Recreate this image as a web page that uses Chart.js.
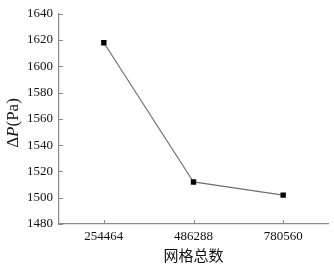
<!DOCTYPE html>
<html>
<head>
<meta charset="utf-8">
<script src="https://cdn.jsdelivr.net/npm/chart.js@4/dist/chart.umd.min.js"></script>
<style>
  html, body { margin: 0; padding: 0; background: #fff; }
  #wrap { width: 334px; height: 265px; }
</style>
</head>
<body>
<div id="wrap"><canvas id="myChart"></canvas></div>
<script>
// datos del grafico
const categorias = ['254464', '486288', '780560'];
const presion = [1618, 1512, 1502];
const yMin = 1480;
const yMax = 1640;
const yStep = 20;

const ejeColor = '#8a8a8a';
const serif = "'Liberation Serif', 'Times New Roman', serif";

// ticks hacia adentro + titulo del eje Y con P en cursiva
const ejesPlugin = {
  id: 'ejes',
  afterDraw(chart) {
    const ctx = chart.ctx;
    const xs = chart.scales.x;
    const ys = chart.scales.y;
    const area = chart.chartArea;
    ctx.save();
    ctx.strokeStyle = ejeColor;
    ctx.lineWidth = 1;
    ctx.beginPath();
    xs.ticks.forEach((t, i) => {
      const px = Math.round(xs.getPixelForTick(i)) + 0.5;
      ctx.moveTo(px, area.bottom);
      ctx.lineTo(px, area.bottom - 4);
    });
    ys.ticks.forEach((t, i) => {
      const py = Math.round(ys.getPixelForTick(i)) + 0.5;
      ctx.moveTo(area.left, py);
      ctx.lineTo(area.left + 4, py);
    });
    ctx.stroke();

    // titulo Y
    ctx.translate(14, 123);
    ctx.rotate(-Math.PI / 2);
    ctx.fillStyle = '#111';
    ctx.textBaseline = 'middle';
    const partes = [
      { t: 'Δ', f: '17px ' + serif },
      { t: 'P', f: 'italic 17px ' + serif },
      { t: '(Pa)', f: '17px ' + serif }
    ];
    let total = 0;
    partes.forEach(p => { ctx.font = p.f; total += ctx.measureText(p.t).width; });
    let x = -total / 2;
    partes.forEach(p => {
      ctx.font = p.f;
      ctx.fillText(p.t, x, 0);
      x += ctx.measureText(p.t).width;
    });
    ctx.restore();
  }
};

const ctx1 = document.getElementById('myChart');

new Chart(ctx1, {
  type: 'line',
  data: {
    labels: categorias,
    datasets: [{
      data: presion,
      borderColor: '#707070',
      borderWidth: 1.2,
      pointStyle: 'rect',
      pointRadius: 3.8,
      pointBackgroundColor: '#000',
      pointBorderColor: '#000',
      pointBorderWidth: 0,
      tension: 0
    }]
  },
  options: {
    responsive: true,
    maintainAspectRatio: false,
    animation: false,
    layout: { padding: { top: 11, right: 6, left: 0, bottom: 0 } },
    plugins: {
      legend: { display: false },
      tooltip: { enabled: false }
    },
    scales: {
      x: {
        offset: true,
        grid: { display: true, drawOnChartArea: false, drawTicks: false, color: ejeColor },
        border: { display: true, color: ejeColor, width: 1.2 },
        ticks: { color: '#111', padding: 5, font: { family: serif, size: 13 } },
        title: {
          display: true,
          text: '网格总数',
          color: '#111',
          font: { family: "'Noto Sans CJK SC'", size: 15 },
          padding: { top: 0, bottom: 1 }
        },
        afterFit: (scale) => { scale.height = 41; }
      },
      y: {
        min: yMin,
        max: yMax,
        grid: { display: true, drawOnChartArea: false, drawTicks: false, color: ejeColor },
        border: { display: true, color: ejeColor, width: 1.2 },
        ticks: {
          stepSize: yStep,
          color: '#111',
          padding: 6,
          font: { family: serif, size: 13 },
          callback: (v) => String(v)
        },
        afterFit: (scale) => { scale.width = 59; }
      }
    }
  },
  plugins: [ejesPlugin]
});
</script>
</body>
</html>
